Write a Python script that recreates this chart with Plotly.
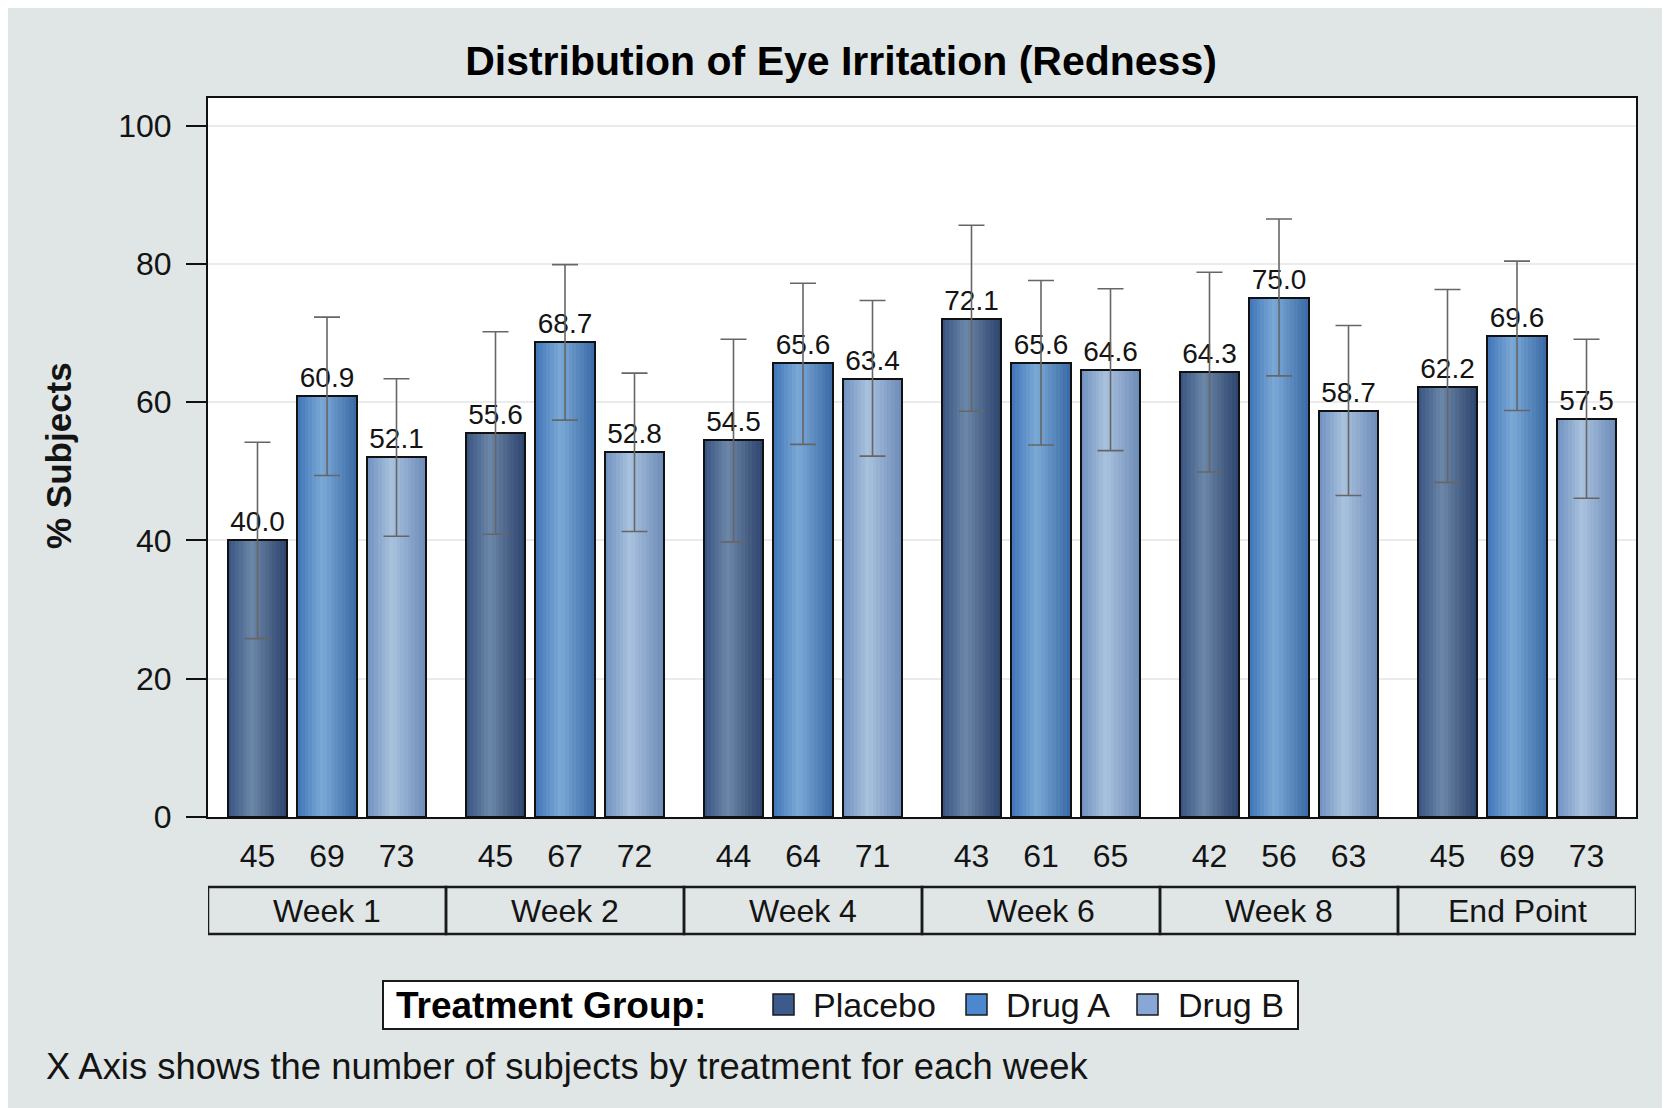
import plotly.graph_objects as go

# ---------------- data ----------------
weeks = ["Week 1", "Week 2", "Week 4", "Week 6", "Week 8", "End Point"]
treatments = ["Placebo", "Drug A", "Drug B"]

pct_placebo = [40.0, 55.6, 54.5, 72.1, 64.3, 62.2]
pct_drug_a = [60.9, 68.7, 65.6, 65.6, 75.0, 69.6]
pct_drug_b = [52.1, 52.8, 63.4, 64.6, 58.7, 57.5]

upper_placebo = [54.2, 70.2, 69.1, 85.6, 78.8, 76.3]
lower_placebo = [25.8, 40.9, 39.8, 58.7, 49.9, 48.4]
upper_drug_a = [72.3, 79.9, 77.2, 77.6, 86.5, 80.4]
lower_drug_a = [49.4, 57.4, 53.9, 53.8, 63.8, 58.8]
upper_drug_b = [63.4, 64.2, 74.7, 76.4, 71.1, 69.1]
lower_drug_b = [40.6, 41.3, 52.2, 53.0, 46.5, 46.1]

n_placebo = [45, 45, 44, 43, 42, 45]
n_drug_a = [69, 67, 64, 61, 56, 69]
n_drug_b = [73, 72, 71, 65, 63, 73]

y_ticks = [0, 20, 40, 60, 80, 100]

# ---------------- styling / layout constants ----------------
PAGE_OFF = 8                              # default html body margin
W, H = 1670 - PAGE_OFF, 1108 - PAGE_OFF   # figure size
L, R, T, B = 208, 1636, 98, 817           # plot area, page pixels
PW, PH = R - L, B - T
FONT = "Liberation Sans, Arial, sans-serif"
TXT = "#141414"
BG = "#e0e6e6"

series = [
    dict(name=treatments[0], pct=pct_placebo, up=upper_placebo, lo=lower_placebo, n=n_placebo,
         stops=[(0.0, "#36517f"), (0.40, "#6b87a8"), (1.0, "#2c426b")], swatch="#3c5b8c"),
    dict(name=treatments[1], pct=pct_drug_a, up=upper_drug_a, lo=lower_drug_a, n=n_drug_a,
         stops=[(0.0, "#3f74b8"), (0.42, "#7caad6"), (1.0, "#3968a6")], swatch="#4d87cf"),
    dict(name=treatments[2], pct=pct_drug_b, up=upper_drug_b, lo=lower_drug_b, n=n_drug_b,
         stops=[(0.0, "#6f8fc0"), (0.42, "#a9c2dd"), (1.0, "#6c8ab8")], swatch="#88a7d4"),
]

PITCH = 0.292      # distance between bars inside a group (axis units)
BW = 0.25          # bar width (axis units)
M = 16             # gradient strips per bar


def hex2rgb(h):
    h = h.lstrip("#")
    return tuple(int(h[i:i + 2], 16) for i in (0, 2, 4))


def interp(stops, t):
    for (t0, c0), (t1, c1) in zip(stops[:-1], stops[1:]):
        if t0 <= t <= t1:
            f = (t - t0) / (t1 - t0) if t1 > t0 else 0
            a, b = hex2rgb(c0), hex2rgb(c1)
            return "rgb(%d,%d,%d)" % tuple(round(a[i] + (b[i] - a[i]) * f) for i in range(3))
    return stops[-1][1]


def px_x(p):
    return (p - L) / PW


def px_y(p):
    return (B - p) / PH


fig = go.Figure()

group_idx = list(range(len(weeks)))
tickvals, ticktext = [], []

# gradient fills (strips)
for k, s in enumerate(series):
    xs = [g + (k - 1) * PITCH for g in group_idx]
    for j in range(M):
        off = -BW / 2 + j * BW / M
        wid = min(BW / M * 1.6, BW / 2 - off)
        fig.add_trace(go.Bar(
            x=xs, y=s["pct"], offset=off, width=wid,
            marker=dict(color=interp(s["stops"], (j + 0.5) / M), line=dict(width=0)),
            showlegend=False, hoverinfo="skip",
        ))

# outlines, value labels and error bars
for k, s in enumerate(series):
    xs = [g + (k - 1) * PITCH for g in group_idx]
    tickvals += xs
    ticktext += [str(v) for v in s["n"]]
    fig.add_trace(go.Bar(
        x=xs, y=s["pct"], width=BW, name=s["name"],
        marker=dict(color="rgba(0,0,0,0)", line=dict(color="#111111", width=2)),
        texttemplate="%{y:.1f}", textposition="outside", constraintext="none",
        textfont=dict(size=28, color=TXT, family=FONT), cliponaxis=False,
        error_y=dict(type="data", symmetric=False,
                     array=[u - v for u, v in zip(s["up"], s["pct"])],
                     arrayminus=[v - lo for v, lo in zip(s["pct"], s["lo"])],
                     color="#666666", thickness=1.6, width=13),
        showlegend=False,
    ))

shapes = []
annotations = []

# group label boxes
for g, wk in enumerate(weeks):
    shapes.append(dict(type="rect", xref="x", yref="paper", x0=g - 0.5, x1=g + 0.5,
                       y0=px_y(934), y1=px_y(887), line=dict(color="#1a1a1a", width=2.5),
                       fillcolor="rgba(0,0,0,0)"))
    annotations.append(dict(x=g, xref="x", y=px_y(911), yref="paper", text=wk, showarrow=False,
                            xanchor="center", yanchor="middle",
                            font=dict(size=32, color=TXT, family=FONT)))

# y-axis title
annotations.append(dict(x=px_x(58), xref="paper", y=px_y(456), yref="paper",
                        text="<b>% Subjects</b>", textangle=-90, showarrow=False,
                        xanchor="center", yanchor="middle",
                        font=dict(size=35, color=TXT, family=FONT)))

# legend (box, title, swatches, labels)
shapes.append(dict(type="rect", xref="paper", yref="paper", x0=px_x(383), x1=px_x(1298),
                   y0=px_y(1029), y1=px_y(981), fillcolor="white",
                   line=dict(color="#1a1a1a", width=2)))
annotations.append(dict(x=px_x(394), xref="paper", y=px_y(1005), yref="paper",
                        text="<b>Treatment Group:</b>", showarrow=False,
                        xanchor="left", yanchor="middle",
                        font=dict(size=37, color="#000000", family=FONT)))
sw_x = [773, 966, 1137]
lab_x = [811, 1004, 1176]
for s, sx, lx in zip(series, sw_x, lab_x):
    shapes.append(dict(type="rect", xref="paper", yref="paper", x0=px_x(sx), x1=px_x(sx + 21),
                       y0=px_y(1015), y1=px_y(994), fillcolor=s["swatch"],
                       line=dict(color="#1a1a1a", width=1.5)))
    annotations.append(dict(x=px_x(lx), xref="paper", y=px_y(1005), yref="paper",
                            text=s["name"], showarrow=False, xanchor="left", yanchor="middle",
                            font=dict(size=34, color=TXT, family=FONT)))

# footnote
annotations.append(dict(x=px_x(44), xref="paper", y=px_y(1066), yref="paper",
                        text="X Axis shows the number of subjects by treatment for each week",
                        showarrow=False, xanchor="left", yanchor="middle",
                        font=dict(size=36.4, color=TXT, family=FONT)))

fig.update_layout(
    width=W, height=H,
    margin=dict(l=L - PAGE_OFF, r=W - (R - PAGE_OFF), t=T - PAGE_OFF, b=H - (B - PAGE_OFF), pad=0),
    paper_bgcolor=BG, plot_bgcolor="white",
    barmode="overlay", bargap=0,
    font=dict(family=FONT, color=TXT),
    title=dict(text="<b>Distribution of Eye Irritation (Redness)</b>",
               x=(841 - PAGE_OFF) / W, xref="container", xanchor="center",
               y=1 - (61 - PAGE_OFF) / H, yref="container", yanchor="middle",
               font=dict(size=41, color="#000000", family=FONT)),
    xaxis=dict(range=[-0.5, len(weeks) - 0.5], tickmode="array", tickvals=tickvals,
               ticktext=ticktext, ticks="", showgrid=False, zeroline=False,
               showline=True, mirror=True, linecolor="#111111", linewidth=2,
               tickfont=dict(size=32, color=TXT, family=FONT), ticklabelstandoff=10),
    yaxis=dict(range=[0, 104], tickmode="array", tickvals=y_ticks, ticks="outside",
               ticklen=20, tickwidth=2, tickcolor="#111111",
               showgrid=True, gridcolor="#ebebeb", gridwidth=1.5, zeroline=False,
               showline=True, mirror=True, linecolor="#111111", linewidth=2,
               tickfont=dict(size=32, color=TXT, family=FONT), ticklabelstandoff=8),
    shapes=shapes, annotations=annotations,
)

fig.write_html("out.html")
